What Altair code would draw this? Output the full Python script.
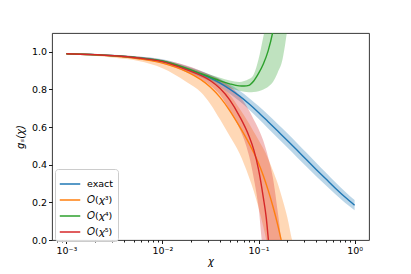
import altair as alt
import pandas as pd

SERIES = ["exact", "𝑂(𝜒³)", "𝑂(𝜒⁴)", "𝑂(𝜒⁵)"]
COLORS = ["#1f77b4", "#ff7f0e", "#2ca02c", "#d62728"]

# ---- lines (log10 chi, g) ----
exact_logx = [-3.0, -2.75, -2.5, -2.25, -2.0, -1.75, -1.5, -1.4, -1.3, -1.2, -1.1, -1.0, -0.9, -0.8, -0.7, -0.6, -0.5, -0.4, -0.3, -0.2, -0.1, 0.0]
exact_g = [0.990, 0.986, 0.979, 0.968, 0.950, 0.910, 0.860, 0.834, 0.802, 0.766, 0.724, 0.678, 0.629, 0.579, 0.529, 0.478, 0.426, 0.375, 0.325, 0.275, 0.228, 0.185]
exact_err = [0.003, 0.004, 0.005, 0.007, 0.010, 0.014, 0.018, 0.021, 0.025, 0.028, 0.031, 0.034, 0.036, 0.037, 0.038, 0.038, 0.037, 0.036, 0.034, 0.032, 0.030, 0.027]

o3_logx = [-3.0, -2.75, -2.5, -2.25, -2.0, -1.75, -1.6, -1.5, -1.4, -1.3, -1.2, -1.1, -1.05, -1.0, -0.95, -0.9, -0.85, -0.8, -0.76]
o3_g = [0.990, 0.985, 0.977, 0.963, 0.940, 0.895, 0.852, 0.812, 0.758, 0.688, 0.605, 0.515, 0.465, 0.408, 0.342, 0.265, 0.178, 0.080, -0.010]

o4_logx = [-3.0, -2.75, -2.5, -2.25, -2.0, -1.75, -1.5, -1.4, -1.3, -1.2, -1.15, -1.1, -1.05, -1.0, -0.95, -0.9, -0.85, -0.82]
o4_g = [0.990, 0.986, 0.979, 0.968, 0.951, 0.912, 0.865, 0.846, 0.830, 0.819, 0.818, 0.822, 0.845, 0.885, 0.935, 1.005, 1.110, 1.200]

o5_logx = [-3.0, -2.75, -2.5, -2.25, -2.0, -1.75, -1.5, -1.4, -1.3, -1.2, -1.1, -1.05, -1.0, -0.95, -0.92, -0.897, -0.88]
o5_g = [0.990, 0.986, 0.979, 0.967, 0.948, 0.905, 0.846, 0.805, 0.745, 0.660, 0.553, 0.480, 0.375, 0.225, 0.120, 0.000, -0.080]

# ---- uncertainty bands ----
o3_band_logx = [-3.0, -2.75, -2.5, -2.25, -2.0, -1.75, -1.6, -1.5, -1.4, -1.3, -1.2, -1.1, -1.05, -1.0, -0.95, -0.9, -0.85, -0.8, -0.75, -0.7, -0.65, -0.62]
o3_band_lo = [0.987, 0.980, 0.968, 0.951, 0.913, 0.840, 0.785, 0.722, 0.640, 0.552, 0.462, 0.335, 0.260, 0.172, 0.070, -0.05, -0.2, -0.3, -0.3, -0.3, -0.3, -0.3]
o3_band_hi = [0.992, 0.988, 0.982, 0.971, 0.953, 0.918, 0.885, 0.856, 0.818, 0.772, 0.700, 0.620, 0.575, 0.532, 0.486, 0.432, 0.368, 0.300, 0.215, 0.120, 0.000, -0.05]

o4_band_logx = [-3.0, -2.5, -2.0, -1.75, -1.5, -1.4, -1.3, -1.2, -1.1, -1.05, -1.0, -0.95, -0.92, -0.9, -0.85, -0.8, -0.75, -0.72, -0.7]
o4_band_lo = [0.988, 0.976, 0.945, 0.903, 0.850, 0.828, 0.808, 0.793, 0.785, 0.786, 0.790, 0.800, 0.808, 0.815, 0.840, 0.890, 0.960, 1.050, 1.120]
o4_band_hi = [0.992, 0.982, 0.957, 0.921, 0.878, 0.862, 0.848, 0.840, 0.855, 0.880, 0.960, 1.080, 1.150, 1.200, 1.250, 1.300, 1.350, 1.400, 1.450]

o5_band_logx = [-3.0, -2.75, -2.5, -2.25, -2.0, -1.75, -1.5, -1.4, -1.3, -1.2, -1.1, -1.05, -1.0, -0.95, -0.9, -0.85, -0.8, -0.78, -0.765]
o5_band_lo = [0.989, 0.984, 0.976, 0.963, 0.938, 0.891, 0.820, 0.770, 0.690, 0.595, 0.450, 0.330, 0.175, -0.06, -0.1, -0.1, -0.1, -0.1, -0.1]
o5_band_hi = [0.992, 0.989, 0.983, 0.975, 0.958, 0.927, 0.876, 0.853, 0.818, 0.767, 0.690, 0.640, 0.590, 0.527, 0.440, 0.330, 0.150, 0.070, -0.020]

X_MAJOR = [0.001, 0.01, 0.1, 1]
X_MINOR_MULT = [2, 3, 4, 5, 6, 7, 8, 9]
Y_TICKS = [0.0, 0.2, 0.4, 0.6, 0.8, 1.0]
X_DOMAIN = [10 ** -3.15, 10 ** 0.15]

# ---- build tables ----
lines = []
for name, lx, gv in [(SERIES[0], exact_logx, exact_g), (SERIES[1], o3_logx, o3_g),
                     (SERIES[2], o4_logx, o4_g), (SERIES[3], o5_logx, o5_g)]:
    for i, (a, b) in enumerate(zip(lx, gv)):
        lines.append({"series": name, "chi": 10 ** a, "g": b, "i": i})
lines = pd.DataFrame(lines)

band_tables = []
band_tables.append(pd.DataFrame({"chi": [10 ** a for a in exact_logx],
                                 "lo": [b - e for b, e in zip(exact_g, exact_err)],
                                 "hi": [b + e for b, e in zip(exact_g, exact_err)]}))
for lx, lo, hi in [(o3_band_logx, o3_band_lo, o3_band_hi),
                   (o4_band_logx, o4_band_lo, o4_band_hi),
                   (o5_band_logx, o5_band_lo, o5_band_hi)]:
    band_tables.append(pd.DataFrame({"chi": [10 ** a for a in lx], "lo": lo, "hi": hi}))

x_ticks = list(X_MAJOR)
for k in range(-4, 1):
    for m in X_MINOR_MULT:
        v = m * 10 ** k
        if X_DOMAIN[0] <= v <= X_DOMAIN[1]:
            x_ticks.append(v)

major_test = "datum.value == 0.001 || datum.value == 0.01 || datum.value == 0.1 || datum.value == 1"
label_expr = ("datum.value == 0.001 ? '10⁻³' : datum.value == 0.01 ? '10⁻²' : "
              "datum.value == 0.1 ? '10⁻¹' : datum.value == 1 ? '10⁰' : ''")

x_scale = alt.Scale(type="log", domain=X_DOMAIN, nice=False)
y_scale = alt.Scale(domain=[0, 1.1], nice=False, zero=False)

x_axis = alt.Axis(values=x_ticks, labelExpr=label_expr, labelOverlap=False,
                  tickSize={"condition": {"test": major_test, "value": 3.5}, "value": 2},
                  title="χ", titleFontStyle="italic", titleFontWeight="normal",
                  titleFontSize=10, titlePadding=1, labelFlush=False)
y_axis = alt.Axis(values=Y_TICKS, format=".1f", title="gₛ(χ)", titleFontStyle="italic",
                  titleFontWeight="normal", titleFontSize=10, titlePadding=6, tickSize=3.5)

layers = []
for tbl, col in zip(band_tables, COLORS):
    layers.append(
        alt.Chart(tbl).mark_area(opacity=0.3, clip=True, interpolate="monotone", color=col).encode(
            x=alt.X("chi:Q", scale=x_scale, axis=x_axis),
            y=alt.Y("lo:Q", scale=y_scale, axis=y_axis, stack=None),
            y2="hi:Q",
        )
    )

line_layer = alt.Chart(lines).mark_line(strokeWidth=1.4, clip=True, interpolate="monotone").encode(
    x=alt.X("chi:Q", scale=x_scale, axis=x_axis),
    y=alt.Y("g:Q", scale=y_scale, axis=y_axis),
    color=alt.Color("series:N", scale=alt.Scale(domain=SERIES, range=COLORS), sort=SERIES,
                    legend=alt.Legend(orient="none", legendX=3, legendY=136, title=None,
                                      symbolType="stroke", symbolStrokeWidth=1.5, symbolSize=420,
                                      labelFontSize=9.5, labelFont="DejaVu Sans", labelColor="black",
                                      fillColor="rgba(255,255,255,0.8)", strokeColor="#cccccc",
                                      cornerRadius=3, padding=4, rowPadding=-4, labelOffset=6)),
    order="i:Q",
)
layers.append(line_layer)

chart = alt.layer(*layers).properties(
    width=317, height=207,
    autosize=alt.AutoSizeParams(type="none"),
    padding={"left": 44, "top": 25, "right": 34, "bottom": 34},
    background="white",
).configure_view(stroke="#222222", strokeWidth=0.9).configure_axis(
    domain=False, grid=False, labelFont="DejaVu Sans", titleFont="DejaVu Sans",
    labelFontSize=9.5, labelColor="black", titleColor="black", tickColor="black", tickWidth=0.9,
    labelPadding=2,
)

chart.save("out.html", embed_options={"renderer": "svg", "actions": False})
